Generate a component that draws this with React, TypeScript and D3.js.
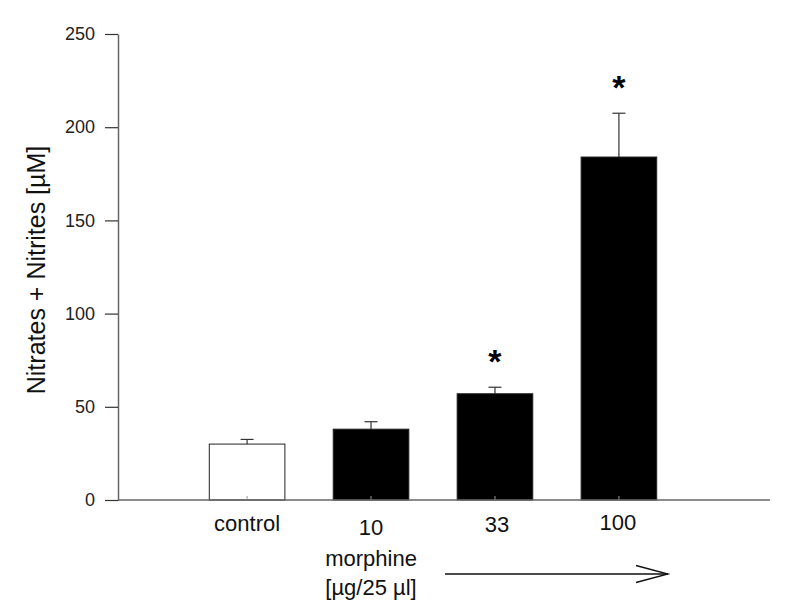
import { useEffect, useRef } from 'react';
import * as d3 from 'd3';

const categories = ['control', '10', '33', '100'];
const means = [30, 38, 57, 184];
const errors = [2.5, 4, 3.5, 23.5];
const significant = [false, false, true, true];
const yTicks = [0, 50, 100, 150, 200, 250];

const FONT = 'Liberation Sans, Arial, sans-serif';

const App = () => {
  const svgRef = useRef<SVGSVGElement | null>(null);

  useEffect(() => {
    const width = 800;
    const height = 610;
    const x0 = 118;
    const x1 = 770;

    d3.select(svgRef.current).selectAll('*').remove();
    const svg = d3.select(svgRef.current).attr('width', width).attr('height', height);

    const x = d3.scaleBand<string>()
      .domain(categories)
      .range([184.5, 681.5])
      .paddingInner(0.39)
      .paddingOuter(0.2);

    const y = d3.scaleLinear().domain([0, 250]).range([500, 34]);

    const data = categories.map((c, i) => ({ c, m: means[i], e: errors[i], s: significant[i], i }));
    const cx = (c: string) => x(c)! + x.bandwidth() / 2;

    // error bars (only the upper half shows)
    const eb = svg.append('g').attr('stroke', '#333').attr('stroke-width', 1.2);
    data.forEach(d => {
      eb.append('line').attr('x1', cx(d.c)).attr('x2', cx(d.c)).attr('y1', y(d.m)).attr('y2', y(d.m + d.e));
      eb.append('line').attr('x1', cx(d.c) - 6.5).attr('x2', cx(d.c) + 6.5).attr('y1', y(d.m + d.e)).attr('y2', y(d.m + d.e));
    });

    // bars
    svg.selectAll('rect.bar')
      .data(data)
      .join('rect')
      .attr('class', 'bar')
      .attr('x', d => x(d.c)!)
      .attr('y', d => y(d.m))
      .attr('width', x.bandwidth())
      .attr('height', d => y(0) - y(d.m))
      .attr('fill', d => d.i === 0 ? '#fff' : '#000')
      .attr('stroke', '#222')
      .attr('stroke-width', 1);

    // small inner ticks on the x axis
    svg.selectAll('line.xt')
      .data(data)
      .join('line')
      .attr('class', 'xt')
      .attr('x1', d => cx(d.c)).attr('x2', d => cx(d.c))
      .attr('y1', y(0)).attr('y2', y(0) - 4)
      .attr('stroke', '#999').attr('stroke-width', 1);

    // asterisks
    svg.selectAll('text.star')
      .data(data.filter(d => d.s))
      .join('text')
      .attr('class', 'star')
      .attr('x', d => cx(d.c))
      .attr('y', d => y(d.m + d.e) - 14)
      .attr('text-anchor', 'middle')
      .attr('font-family', FONT)
      .attr('font-size', 34)
      .attr('font-weight', 'bold')
      .text('*');

    // y axis
    const yAxis = svg.append('g')
      .attr('transform', `translate(${x0},0)`)
      .call(d3.axisLeft(y).tickValues(yTicks).tickSize(13).tickPadding(10).tickSizeOuter(0));
    yAxis.select('.domain').attr('stroke', '#666').attr('stroke-width', 1.5);
    yAxis.selectAll('.tick line').attr('stroke', '#333').attr('stroke-width', 1.2);
    yAxis.selectAll('.tick text')
      .attr('font-family', FONT)
      .attr('font-size', 18)
      .attr('fill', '#222');

    // x axis line
    svg.append('line')
      .attr('x1', x0).attr('x2', x1)
      .attr('y1', y(0)).attr('y2', y(0))
      .attr('stroke', '#666').attr('stroke-width', 1.5);

    // x labels
    const labelDx = [0, 0, 2, -1];
    const labelDy = [0, 4, 1, -1];
    svg.selectAll('text.xl')
      .data(data)
      .join('text')
      .attr('class', 'xl')
      .attr('x', d => cx(d.c) + labelDx[d.i])
      .attr('y', d => 531 + labelDy[d.i])
      .attr('text-anchor', 'middle')
      .attr('font-family', FONT)
      .attr('font-size', 22)
      .attr('fill', '#111')
      .text(d => d.c);

    const mx = cx('10');
    svg.append('text')
      .attr('x', mx).attr('y', 566)
      .attr('text-anchor', 'middle')
      .attr('font-family', FONT).attr('font-size', 22).attr('fill', '#111')
      .text('morphine');
    svg.append('text')
      .attr('x', mx).attr('y', 595)
      .attr('text-anchor', 'middle')
      .attr('font-family', FONT).attr('font-size', 22).attr('fill', '#111')
      .text('[µg/25 µl]');

    // arrow
    const ay = 574;
    svg.append('line').attr('x1', 445).attr('x2', 668).attr('y1', ay).attr('y2', ay)
      .attr('stroke', '#111').attr('stroke-width', 1.3);
    svg.append('path')
      .attr('d', `M636,${ay - 8.5}L668,${ay}L636,${ay + 8.5}`)
      .attr('fill', 'none').attr('stroke', '#111').attr('stroke-width', 1.3);

    // y title
    svg.append('text')
      .attr('transform', `translate(45,270) rotate(-90)`)
      .attr('text-anchor', 'middle')
      .attr('font-family', FONT)
      .attr('font-size', 25)
      .attr('fill', '#111')
      .text('Nitrates + Nitrites [µM]');
  }, []);

  return (
    <div style={{ position: 'absolute', left: 0, top: 0, background: '#fff' }}>
      <svg ref={svgRef} style={{ display: 'block' }} />
    </div>
  );
};

export default App;
